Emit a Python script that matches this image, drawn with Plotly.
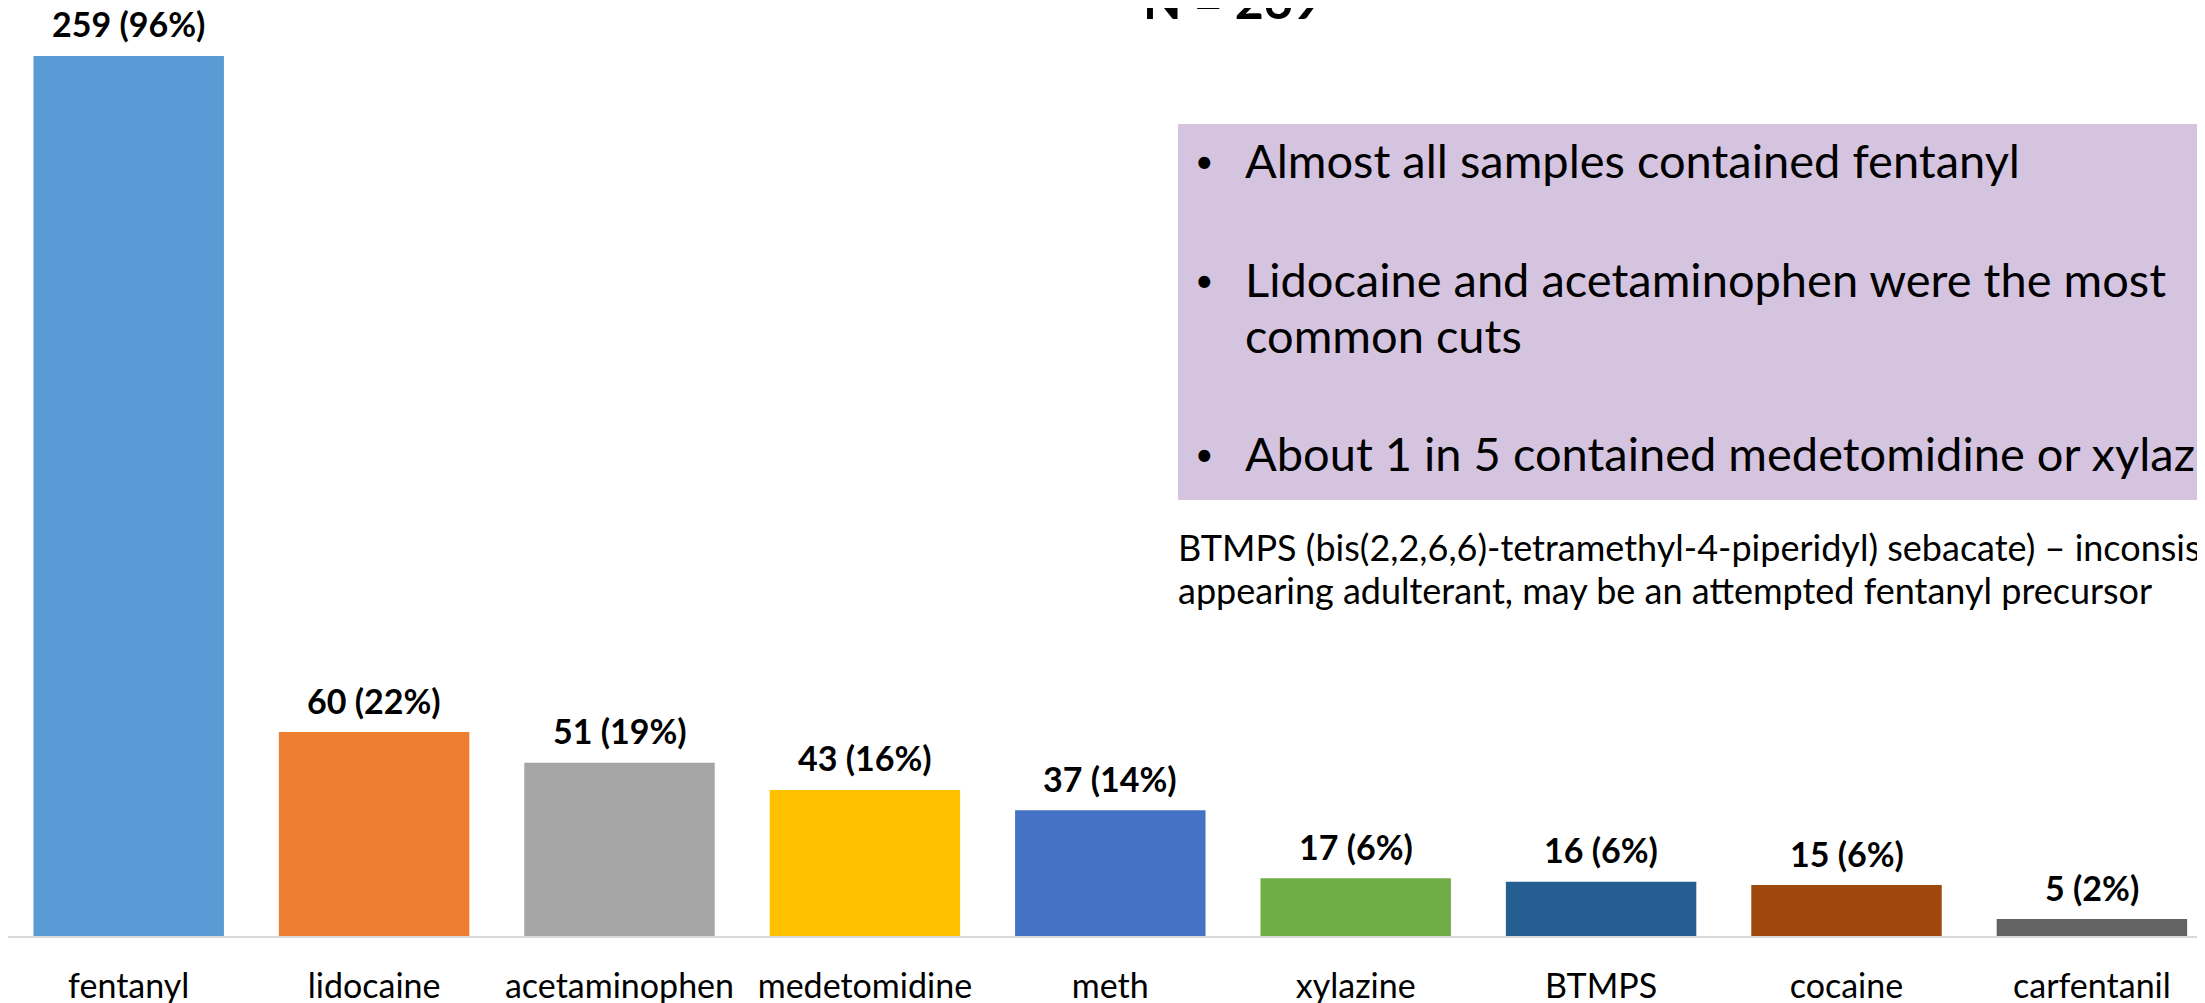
import plotly.graph_objects as go

substances = ["fentanyl", "lidocaine", "acetaminophen", "medetomidine", "meth",
              "xylazine", "BTMPS", "cocaine", "carfentanil"]
counts = [259, 60, 51, 43, 37, 17, 16, 15, 5]
percents = [96, 22, 19, 16, 14, 6, 6, 6, 2]
bar_colors = ["#5B9BD5", "#ED7D31", "#A5A5A5", "#FFC000", "#4472C4",
              "#70AD47", "#255E91", "#9E480E", "#636363"]

title_text = "N = 269"
bullets = [
    ["Almost all samples contained fentanyl"],
    ["Lidocaine and acetaminophen were the most", "common cuts"],
    ["About 1 in 5 contained medetomidine or xylazine"],
]
note_lines = [
    "BTMPS (bis(2,2,6,6)-tetramethyl-4-piperidyl) sebacate) \u2013 inconsistently",
    "appearing adulterant, may be an attempted fentanyl precursor",
]

# page has an 8px body margin, so the figure is a bit smaller than the window
OFF = 8
W, H = 2205 - OFF, 1003 - OFF
ML, MR, MT, MB = 0, 0, 0, 67
PLOT_W, PLOT_H = W - ML - MR, H - MT - MB
FONT = "Lato"


def px_x(px):
    # page pixel -> paper x
    return (px - OFF - ML) / PLOT_W


def px_y(py):
    # page pixel -> paper y
    return (MT + PLOT_H - (py - OFF)) / PLOT_H


cat_w = 245.4
x_left = -0.5 + (122.7 - (128.7 - OFF)) / cat_w

fig = go.Figure()
fig.add_trace(go.Bar(
    x=substances, y=counts,
    marker=dict(color=bar_colors, line=dict(width=0)),
    hoverinfo="skip",
))

annotations = []
for name, c, p in zip(substances, counts, percents):
    annotations.append(dict(
        x=name, y=c, xref="x", yref="y", text=f"<b>{c} ({p}%)</b>",
        showarrow=False, yanchor="middle", yshift=32,
        font=dict(family=FONT, size=34, color="black"),
    ))

annotations.append(dict(
    x=px_x(1232), y=px_y(0), xref="paper", yref="paper", text=f"<b>{title_text}</b>",
    showarrow=False, xanchor="center", yanchor="middle",
    font=dict(family=FONT, size=50, color="black"),
))

bullet_y = [[160], [279, 335], [453]]
for lines, ys in zip(bullets, bullet_y):
    annotations.append(dict(
        x=px_x(1204), y=px_y(ys[0]), xref="paper", yref="paper", text="\u2022",
        showarrow=False, xanchor="center", yanchor="middle",
        font=dict(family=FONT, size=32, color="black"),
    ))
    for line, yy in zip(lines, ys):
        annotations.append(dict(
            x=px_x(1243), y=px_y(yy), xref="paper", yref="paper", text=line,
            showarrow=False, xanchor="left", yanchor="middle",
            font=dict(family=FONT, size=47, color="black"),
        ))

for line, yy in zip(note_lines, [547, 590]):
    annotations.append(dict(
        x=px_x(1176), y=px_y(yy), xref="paper", yref="paper", text=line,
        showarrow=False, xanchor="left", yanchor="middle",
        font=dict(family=FONT, size=36, color="black"),
    ))

fig.update_layout(
    width=W, height=H,
    margin=dict(l=ML, r=MR, t=MT, b=MB, pad=0),
    paper_bgcolor="white", plot_bgcolor="white",
    showlegend=False,
    bargap=0.224,
    font=dict(family=FONT, color="black"),
    xaxis=dict(
        range=[x_left, x_left + PLOT_W / cat_w], showgrid=False, zeroline=False,
        showline=True, linecolor="#D9D9D9", linewidth=2,
        ticks="", ticklabelstandoff=19, automargin=False,
        tickfont=dict(family=FONT, size=34, color="black"),
    ),
    yaxis=dict(range=[0, PLOT_H / 3.398], visible=False, fixedrange=True),
    shapes=[dict(
        type="rect", xref="paper", yref="paper", layer="below",
        x0=px_x(1178), x1=px_x(2260), y0=px_y(500), y1=px_y(124),
        fillcolor="#D5C4DF", line=dict(width=0),
    )],
    annotations=annotations,
)

fig.write_html("out.html")
